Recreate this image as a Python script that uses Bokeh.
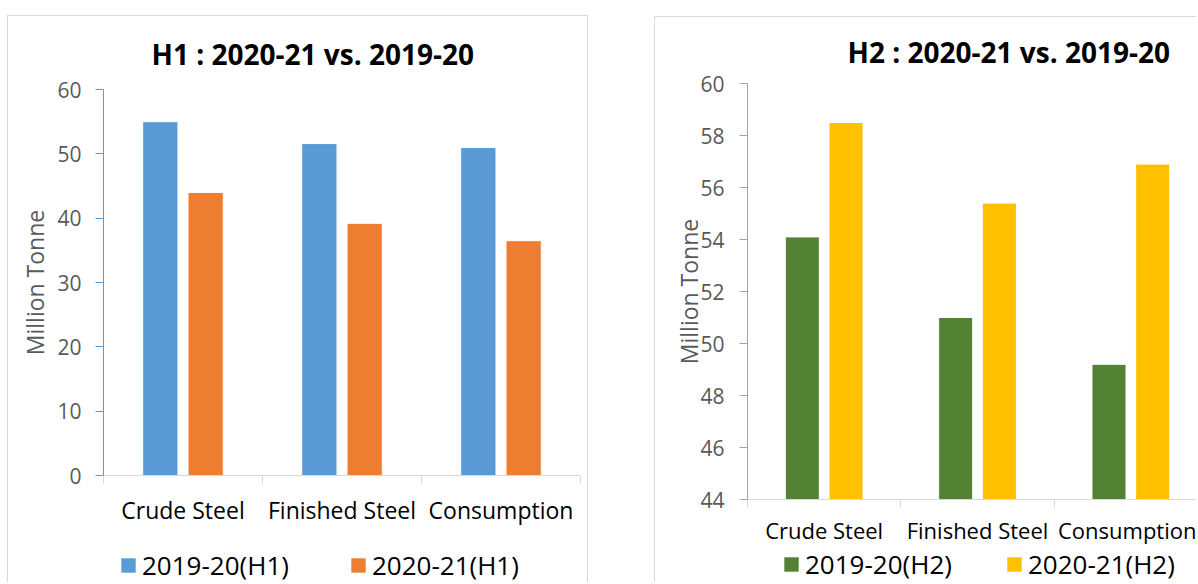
from bokeh.plotting import figure
from bokeh.layouts import row, column
from bokeh.models import ColumnDataSource, FixedTicker, Range1d, Legend, LegendItem
from bokeh.embed import file_html
from bokeh.resources import INLINE

categories = ["Crude Steel", "Finished Steel", "Consumption"]
h1_2019 = [55.0, 51.6, 51.0]
h1_2020 = [44.0, 39.2, 36.5]
h2_2019 = [54.1, 51.0, 49.2]
h2_2020 = [58.5, 55.4, 56.9]
h1_names = ["2019-20(H1)", "2020-21(H1)"]
h2_names = ["2019-20(H2)", "2020-21(H2)"]

FONT = "Open Sans"
GRAY = "#595959"
LINE = "1px solid #d9d9d9"


def bar_sources(v1, v2):
    centers = [i + 0.5 for i in range(len(categories))]
    s1 = ColumnDataSource(dict(x=[c - 0.1425 for c in centers], top=v1))
    s2 = ColumnDataSource(dict(x=[c + 0.1425 for c in centers], top=v2))
    return centers, s1, s2


def make_chart(title, title_offset, title_standoff, v1, v2, colors,
               y0, y1, ystep, x_end, width, height, borders, border_css,
               axis_color, xlabel_size, xlabel_standoff, ylabel_standoff, ytick_standoff):
    p = figure(width=width, height=height, output_backend="svg", toolbar_location=None,
               x_range=Range1d(0, x_end), y_range=Range1d(y0, y1),
               min_border_left=borders[0], min_border_right=borders[1],
               min_border_top=borders[2], min_border_bottom=borders[3])
    p.styles = border_css
    p.outline_line_color = None
    p.grid.visible = False
    p.background_fill_color = "white"
    p.border_fill_color = "white"

    centers, s1, s2 = bar_sources(v1, v2)
    p.vbar(x="x", top="top", bottom=y0, width=0.222, source=s1,
           fill_color=colors[0], line_color="white", line_width=1)
    p.vbar(x="x", top="top", bottom=y0, width=0.222, source=s2,
           fill_color=colors[1], line_color="white", line_width=1)

    p.title.text = title
    p.title.text_font = FONT
    p.title.text_font_style = "bold"
    p.title.text_font_size = "28px"
    p.title.text_color = "black"
    p.title.align = "left"
    p.title.offset = title_offset
    p.title.standoff = title_standoff

    xa = p.xaxis[0]
    xa.ticker = FixedTicker(ticks=centers, minor_ticks=[0, 1, 2, 3])
    xa.major_label_overrides = {c: lab for c, lab in zip(centers, categories)}
    xa.major_tick_line_color = None
    xa.major_tick_out = 0
    xa.major_tick_in = 0
    xa.minor_tick_out = 8
    xa.minor_tick_in = 0
    xa.minor_tick_line_color = "#d9d9d9"
    xa.axis_line_color = "#d9d9d9"
    xa.major_label_text_font = FONT
    xa.major_label_text_font_size = xlabel_size
    xa.major_label_text_color = "black"
    xa.major_label_standoff = xlabel_standoff

    ya = p.yaxis[0]
    ya.ticker = FixedTicker(ticks=list(range(y0, y1 + 1, ystep)))
    ya.minor_tick_line_color = None
    ya.major_tick_out = 8
    ya.major_tick_in = 0
    ya.major_tick_line_color = axis_color
    ya.axis_line_color = axis_color
    ya.major_label_text_font = FONT
    ya.major_label_text_font_size = "21px"
    ya.major_label_text_color = GRAY
    ya.major_label_standoff = ytick_standoff
    ya.axis_label = "Million Tonne"
    ya.axis_label_text_font = FONT
    ya.axis_label_text_font_size = "23px"
    ya.axis_label_text_font_style = "normal"
    ya.axis_label_text_color = GRAY
    ya.axis_label_standoff = ylabel_standoff
    return p


def make_legend(names, colors, v1, v2, width, height, border_css, loc, spacing):
    # legend strip below the chart; its frame is aligned with the chart frame
    q = figure(width=width, height=height, output_backend="svg", toolbar_location=None,
               x_range=Range1d(100, 101), y_range=Range1d(1000, 1001),
               x_axis_location=None, y_axis_location=None,
               min_border_left=0, min_border_right=0, min_border_top=0, min_border_bottom=0)
    q.styles = border_css
    q.outline_line_color = None
    q.grid.visible = False
    q.border_fill_color = "white"
    _, s1, s2 = bar_sources(v1, v2)
    items = []
    for name, col, src in zip(names, colors, [s1, s2]):
        r = q.vbar(x="x", top="top", bottom=0, width=0.222, source=src,
                   fill_color=col, line_color=None)
        items.append(LegendItem(label=name, renderers=[r]))
    leg = Legend(items=items, orientation="horizontal", location=loc,
                 glyph_width=18, glyph_height=18, label_standoff=5,
                 spacing=spacing, padding=0, margin=0,
                 border_line_color=None, background_fill_alpha=0,
                 label_text_font=FONT, label_text_font_size="26px",
                 label_text_color="black")
    q.add_layout(leg, "center")
    return q


c1 = ["#5B9BD5", "#ED7D31"]
c2 = ["#548235", "#FFC000"]

p1 = make_chart("H1 : 2020-21 vs. 2019-20", 48, 33, h1_2019, h1_2020, c1,
                0, 60, 10, 3.0, 581, 529, (95, 9, 72, 70),
                {"border-top": LINE, "border-left": LINE, "border-right": LINE},
                "#5B9BD5", "23px", 10, 3, 14)
l1 = make_legend(h1_names, c1, h1_2019, h1_2020, 581, 38,
                 {"border-left": LINE, "border-right": LINE}, (16, -1), 60)

p2 = make_chart("H2 : 2020-21 vs. 2019-20", 100, 26, h2_2019, h2_2020, c2,
                44, 60, 2, 449 / 153, 542, 530, (92, 0, 66, 45),
                {"border-top": LINE, "border-left": LINE},
                "#8EA9C8", "22px", 7, -8, 15)
l2 = make_legend(h2_names, c2, h2_2019, h2_2020, 542, 36,
                 {"border-left": LINE}, (35, 0), 53)

col1 = column(p1, l1, margin=(15, 0, 0, 7), spacing=0)
col2 = column(p2, l2, margin=(16, 0, 0, 66), spacing=0)
layout = row(col1, col2)
open("out.html", "w").write(file_html(layout, INLINE))
